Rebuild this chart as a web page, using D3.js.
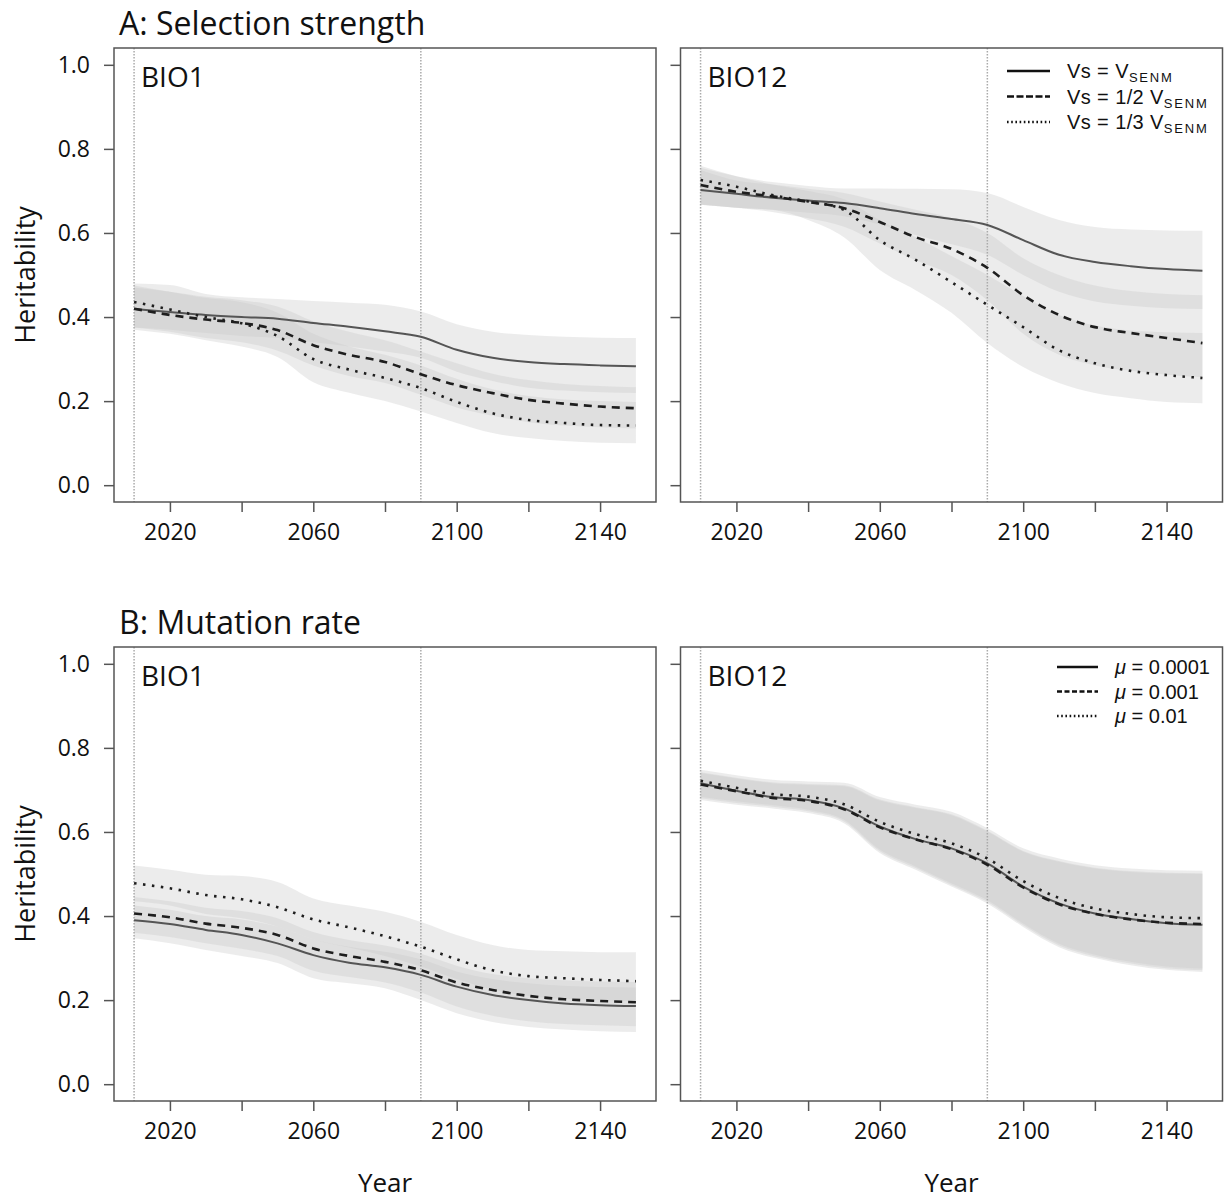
<!DOCTYPE html>
<html>
<head>
<meta charset="utf-8">
<script src="https://cdn.jsdelivr.net/npm/d3@7"></script>
<style>
  body { margin: 0; background: #fff; }
  svg { display: block; font-family: "Open Sans", "Noto Sans", sans-serif; }
  .box { fill: none; stroke: #555; stroke-width: 1.5; }
  .tick line { stroke: #555; stroke-width: 1.5; }
  .tick text { fill: #111; font-size: 23px; font-family: "Open Sans", "Noto Sans", sans-serif; }
  .legend text { font-family: "Liberation Sans", Arial, sans-serif; }
</style>
</head>
<body>
<div id="chart"></div>
<script>

// years of the simulation (10 year steps)
var years = [2010, 2020, 2030, 2040, 2050, 2060, 2070, 2080, 2090, 2100, 2110, 2120, 2130, 2140, 2150]

// reference years marked with dotted verticals
var markYears = [2010, 2090]

var yTicks = [0, 0.2, 0.4, 0.6, 0.8, 1.0]
var xTicks = [2020, 2040, 2060, 2080, 2100, 2120, 2140]
var xLabels = [2020, 2060, 2100, 2140]

// ---- A: selection strength, BIO1
var aBio1Full      = [0.419, 0.412, 0.405, 0.400, 0.396, 0.386, 0.377, 0.366, 0.353, 0.322, 0.303, 0.293, 0.288, 0.285, 0.283]
var aBio1FullHi    = [0.480, 0.476, 0.455, 0.447, 0.443, 0.438, 0.434, 0.429, 0.413, 0.383, 0.365, 0.357, 0.353, 0.351, 0.350]
var aBio1FullLo    = [0.375, 0.370, 0.362, 0.355, 0.350, 0.340, 0.330, 0.318, 0.303, 0.270, 0.248, 0.232, 0.225, 0.221, 0.219]
var aBio1Half      = [0.420, 0.405, 0.394, 0.386, 0.369, 0.333, 0.310, 0.293, 0.264, 0.238, 0.219, 0.203, 0.194, 0.187, 0.183]
var aBio1HalfHi    = [0.470, 0.460, 0.448, 0.440, 0.425, 0.390, 0.365, 0.345, 0.318, 0.290, 0.265, 0.250, 0.241, 0.236, 0.233]
var aBio1HalfLo    = [0.375, 0.365, 0.350, 0.340, 0.320, 0.285, 0.260, 0.243, 0.215, 0.185, 0.165, 0.150, 0.142, 0.138, 0.135]
var aBio1Third     = [0.436, 0.418, 0.400, 0.385, 0.355, 0.300, 0.275, 0.255, 0.231, 0.198, 0.171, 0.155, 0.148, 0.143, 0.142]
var aBio1ThirdHi   = [0.475, 0.460, 0.445, 0.435, 0.410, 0.360, 0.330, 0.310, 0.285, 0.253, 0.228, 0.212, 0.204, 0.200, 0.198]
var aBio1ThirdLo   = [0.370, 0.360, 0.345, 0.330, 0.305, 0.245, 0.220, 0.200, 0.175, 0.148, 0.124, 0.112, 0.105, 0.101, 0.100]

// ---- A: selection strength, BIO12
var aBio12Full     = [0.702, 0.693, 0.684, 0.677, 0.671, 0.659, 0.645, 0.633, 0.619, 0.583, 0.548, 0.531, 0.521, 0.514, 0.510]
var aBio12FullHi   = [0.755, 0.735, 0.721, 0.712, 0.706, 0.706, 0.705, 0.704, 0.695, 0.662, 0.631, 0.614, 0.608, 0.606, 0.605]
var aBio12FullLo   = [0.667, 0.660, 0.655, 0.648, 0.640, 0.620, 0.595, 0.573, 0.548, 0.500, 0.460, 0.437, 0.427, 0.421, 0.419]
var aBio12Half     = [0.714, 0.698, 0.687, 0.674, 0.659, 0.626, 0.590, 0.562, 0.517, 0.452, 0.405, 0.376, 0.362, 0.350, 0.338]
var aBio12HalfHi   = [0.750, 0.725, 0.715, 0.705, 0.695, 0.675, 0.655, 0.635, 0.600, 0.540, 0.500, 0.475, 0.462, 0.455, 0.452]
var aBio12HalfLo   = [0.668, 0.660, 0.650, 0.635, 0.615, 0.575, 0.535, 0.500, 0.440, 0.360, 0.310, 0.285, 0.272, 0.263, 0.257]
var aBio12Third    = [0.726, 0.710, 0.690, 0.675, 0.655, 0.583, 0.536, 0.483, 0.429, 0.376, 0.321, 0.290, 0.272, 0.262, 0.255]
var aBio12ThirdHi  = [0.760, 0.735, 0.715, 0.700, 0.680, 0.630, 0.590, 0.545, 0.500, 0.450, 0.405, 0.380, 0.368, 0.364, 0.362]
var aBio12ThirdLo  = [0.667, 0.660, 0.655, 0.631, 0.590, 0.512, 0.464, 0.410, 0.338, 0.281, 0.243, 0.219, 0.207, 0.198, 0.195]

// ---- B: mutation rate, BIO1
var bBio1Low       = [0.390, 0.381, 0.367, 0.355, 0.335, 0.307, 0.289, 0.278, 0.260, 0.232, 0.212, 0.200, 0.192, 0.188, 0.186]
var bBio1LowHi     = [0.425, 0.415, 0.400, 0.392, 0.375, 0.345, 0.327, 0.315, 0.297, 0.268, 0.250, 0.240, 0.234, 0.231, 0.230]
var bBio1LowLo     = [0.347, 0.335, 0.319, 0.305, 0.288, 0.252, 0.240, 0.228, 0.200, 0.169, 0.148, 0.136, 0.130, 0.126, 0.124]
var bBio1Mid       = [0.406, 0.397, 0.382, 0.372, 0.355, 0.323, 0.305, 0.291, 0.271, 0.242, 0.224, 0.210, 0.202, 0.198, 0.195]
var bBio1MidHi     = [0.445, 0.435, 0.420, 0.412, 0.395, 0.362, 0.343, 0.330, 0.310, 0.282, 0.262, 0.252, 0.247, 0.244, 0.243]
var bBio1MidLo     = [0.360, 0.350, 0.335, 0.322, 0.305, 0.270, 0.255, 0.242, 0.218, 0.185, 0.163, 0.150, 0.143, 0.140, 0.138]
var bBio1High      = [0.478, 0.466, 0.450, 0.440, 0.421, 0.392, 0.373, 0.352, 0.327, 0.297, 0.271, 0.257, 0.252, 0.248, 0.245]
var bBio1HighHi    = [0.520, 0.510, 0.498, 0.495, 0.481, 0.442, 0.425, 0.410, 0.386, 0.355, 0.331, 0.319, 0.316, 0.314, 0.314]
var bBio1HighLo    = [0.435, 0.425, 0.405, 0.395, 0.375, 0.345, 0.325, 0.305, 0.280, 0.250, 0.225, 0.210, 0.203, 0.200, 0.197]

// ---- B: mutation rate, BIO12
var bBio12Low      = [0.716, 0.698, 0.683, 0.676, 0.656, 0.613, 0.583, 0.561, 0.525, 0.470, 0.430, 0.406, 0.393, 0.383, 0.379]
var bBio12LowHi    = [0.742, 0.729, 0.718, 0.714, 0.711, 0.677, 0.659, 0.642, 0.603, 0.555, 0.531, 0.515, 0.507, 0.503, 0.502]
var bBio12LowLo    = [0.676, 0.665, 0.656, 0.645, 0.621, 0.550, 0.510, 0.470, 0.430, 0.374, 0.326, 0.300, 0.283, 0.272, 0.267]
var bBio12Mid      = [0.713, 0.697, 0.681, 0.674, 0.654, 0.611, 0.582, 0.559, 0.522, 0.468, 0.428, 0.405, 0.392, 0.384, 0.381]
var bBio12MidHi    = [0.740, 0.727, 0.716, 0.712, 0.709, 0.675, 0.657, 0.640, 0.601, 0.553, 0.529, 0.513, 0.505, 0.501, 0.500]
var bBio12MidLo    = [0.680, 0.669, 0.660, 0.649, 0.625, 0.554, 0.514, 0.474, 0.434, 0.378, 0.330, 0.304, 0.287, 0.276, 0.271]
var bBio12High     = [0.722, 0.705, 0.690, 0.684, 0.666, 0.624, 0.595, 0.573, 0.537, 0.483, 0.443, 0.418, 0.405, 0.397, 0.395]
var bBio12HighHi   = [0.748, 0.735, 0.724, 0.720, 0.717, 0.683, 0.665, 0.648, 0.609, 0.561, 0.537, 0.521, 0.513, 0.509, 0.508]
var bBio12HighLo   = [0.684, 0.673, 0.664, 0.653, 0.629, 0.558, 0.518, 0.478, 0.438, 0.382, 0.334, 0.308, 0.291, 0.280, 0.275]

var width = 1224, height = 1200

var svg = d3.select("#chart").append("svg")
  .attr("width", width)
  .attr("height", height)

// line styles: solid, dashed, dotted
var styles = [
  { stroke: "#555", width: 2, dash: null },
  { stroke: "#1e1e1e", width: 2.6, dash: "8,6" },
  { stroke: "#1e1e1e", width: 2.6, dash: "2.5,6.5" }
]

var panels = [
  { left: 114, top: 48, bottom: 502, name: "BIO1", ylab: true,
    series: [[aBio1Full, aBio1FullHi, aBio1FullLo], [aBio1Half, aBio1HalfHi, aBio1HalfLo], [aBio1Third, aBio1ThirdHi, aBio1ThirdLo]] },
  { left: 680.5, top: 48, bottom: 502, name: "BIO12", ylab: false,
    series: [[aBio12Full, aBio12FullHi, aBio12FullLo], [aBio12Half, aBio12HalfHi, aBio12HalfLo], [aBio12Third, aBio12ThirdHi, aBio12ThirdLo]] },
  { left: 114, top: 647, bottom: 1101, name: "BIO1", ylab: true,
    series: [[bBio1Low, bBio1LowHi, bBio1LowLo], [bBio1Mid, bBio1MidHi, bBio1MidLo], [bBio1High, bBio1HighHi, bBio1HighLo]] },
  { left: 680.5, top: 647, bottom: 1101, name: "BIO12", ylab: false,
    series: [[bBio12Low, bBio12LowHi, bBio12LowLo], [bBio12Mid, bBio12MidHi, bBio12MidLo], [bBio12High, bBio12HighHi, bBio12HighLo]] }
]

var panelWidth = 542

function drawPanel(p) {

  var x = d3.scaleLinear().domain([2004.4, 2155.6]).range([p.left, p.left + panelWidth])
  var y = d3.scaleLinear().domain([-0.04, 1.04]).range([p.bottom, p.top])

  var g = svg.append("g")

  // uncertainty bands
  p.series.forEach(function(s) {
    var area = d3.area()
      .curve(d3.curveMonotoneX)
      .x(function(d, i) { return x(years[i]) })
      .y0(function(d, i) { return y(s[2][i]) })
      .y1(function(d, i) { return y(s[1][i]) })
    g.append("path")
      .attr("d", area(years))
      .attr("fill", "rgb(200,200,200)")
      .attr("fill-opacity", 0.345)
  })

  // reference years
  g.selectAll(".mark")
    .data(markYears)
    .enter().append("line")
    .attr("x1", function(d) { return x(d) })
    .attr("x2", function(d) { return x(d) })
    .attr("y1", p.top)
    .attr("y2", p.bottom)
    .attr("stroke", "#aaa")
    .attr("stroke-width", 1.5)
    .attr("stroke-dasharray", "1.5,1.5")

  // mean lines
  p.series.forEach(function(s, k) {
    var line = d3.line()
      .curve(d3.curveMonotoneX)
      .x(function(d, i) { return x(years[i]) })
      .y(function(d) { return y(d) })
    g.append("path")
      .attr("d", line(s[0]))
      .attr("fill", "none")
      .attr("stroke", styles[k].stroke)
      .attr("stroke-width", styles[k].width)
      .attr("stroke-dasharray", styles[k].dash)
  })

  g.append("rect")
    .attr("class", "box")
    .attr("x", p.left)
    .attr("y", p.top)
    .attr("width", panelWidth)
    .attr("height", p.bottom - p.top)

  var yAxis = d3.axisLeft(y).tickValues(yTicks).tickSize(10).tickPadding(14)
    .tickFormat(p.ylab ? d3.format(".1f") : "")
  var ya = g.append("g").attr("transform", "translate(" + p.left + ",0)").call(yAxis)
  ya.attr("font-family", null).attr("font-size", null)
  ya.select(".domain").remove()

  var xAxis = d3.axisBottom(x).tickValues(xTicks).tickSize(10).tickPadding(12)
    .tickFormat(function(d) { return xLabels.indexOf(d) > -1 ? d : "" })
  var xa = g.append("g").attr("transform", "translate(0," + p.bottom + ")").call(xAxis)
  xa.attr("font-family", null).attr("font-size", null)
  xa.select(".domain").remove()

  g.append("text")
    .attr("x", p.left + 27)
    .attr("y", p.top + 39)
    .attr("font-size", 28)
    .attr("fill", "#111")
    .text(p.name)

  if (p.ylab) {
    g.append("text")
      .attr("transform", "translate(35," + ((p.top + p.bottom) / 2) + ") rotate(-90)")
      .attr("text-anchor", "middle")
      .attr("font-size", 27)
      .attr("fill", "#111")
      .text("Heritability")
  }

  if (p.top > 300) {
    g.append("text")
      .attr("x", p.left + panelWidth / 2)
      .attr("y", 1192)
      .attr("text-anchor", "middle")
      .attr("font-size", 26)
      .attr("fill", "#111")
      .text("Year")
  }
}

panels.forEach(drawPanel)

// titles
svg.append("text").attr("x", 119).attr("y", 35).attr("font-size", 32).attr("fill", "#111").text("A: Selection strength")
svg.append("text").attr("x", 119).attr("y", 634).attr("font-size", 32).attr("fill", "#111").text("B: Mutation rate")

// legend A
var legA = svg.append("g").attr("class", "legend").attr("transform", "translate(1007,71)")
var legADash = [null, "7,2.5", "1.6,2.6"]
var legAText = ["", "1/2 ", "1/3 "]
legADash.forEach(function(dash, i) {
  legA.append("line")
    .attr("x1", 0).attr("x2", 43)
    .attr("y1", i * 25.5).attr("y2", i * 25.5)
    .attr("stroke", "#111").attr("stroke-width", 2.4)
    .attr("stroke-dasharray", dash)
  var t = legA.append("text")
    .attr("x", 60).attr("y", i * 25.5 + 7)
    .attr("font-size", 20).attr("letter-spacing", 0.4).attr("fill", "#111")
  t.append("tspan").text("Vs = " + legAText[i] + "V")
  t.append("tspan").attr("dy", 4).attr("font-size", 13).attr("letter-spacing", 1.8).text("SENM")
})

// legend B
var legB = svg.append("g").attr("class", "legend").attr("transform", "translate(1057,667)")
var legBDash = [null, "5,2.5", "1.6,2.6"]
var legBText = ["0.0001", "0.001", "0.01"]
legBDash.forEach(function(dash, i) {
  legB.append("line")
    .attr("x1", 0).attr("x2", 41)
    .attr("y1", i * 24.5).attr("y2", i * 24.5)
    .attr("stroke", "#111").attr("stroke-width", 2.4)
    .attr("stroke-dasharray", dash)
  var t = legB.append("text")
    .attr("x", 58).attr("y", i * 24.5 + 7)
    .attr("font-size", 20).attr("fill", "#111")
  t.append("tspan").attr("font-style", "italic").text("\u03bc")
  t.append("tspan").text(" = " + legBText[i])
})

</script>
</body>
</html>
